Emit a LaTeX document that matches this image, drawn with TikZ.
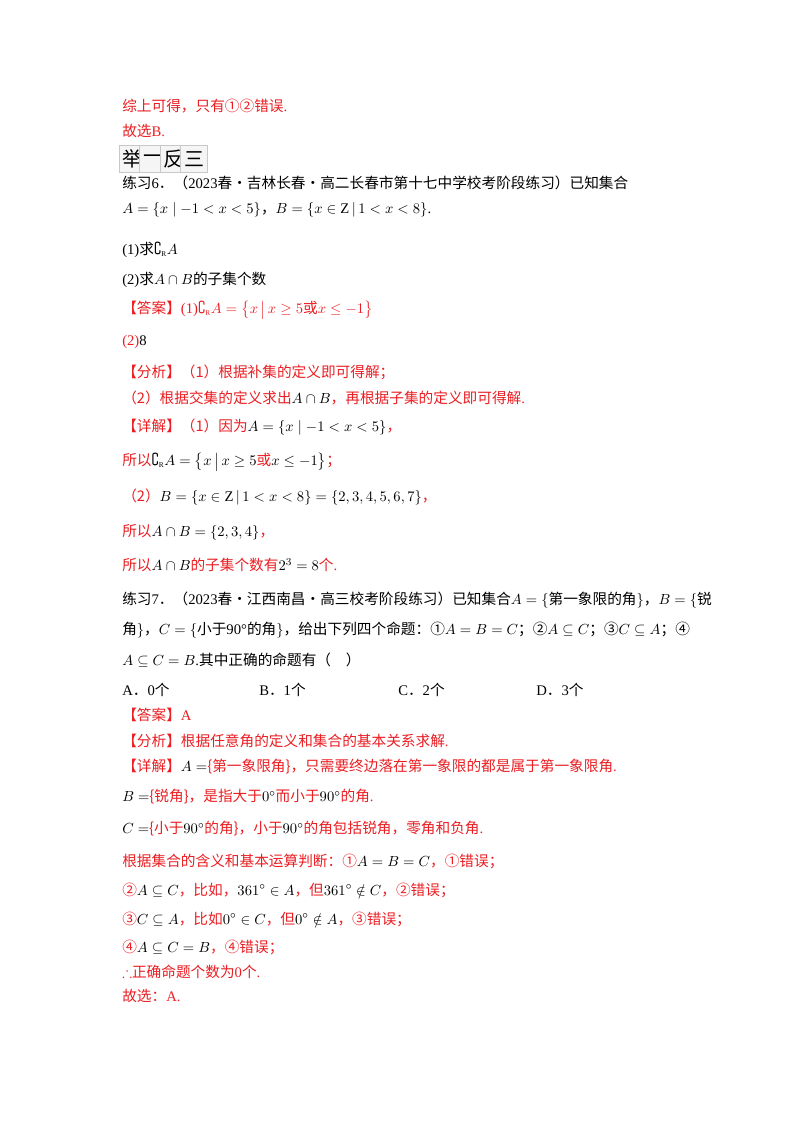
\documentclass[tikz,border=0pt]{standalone}
\usepackage{amsmath,amssymb}
\usepackage{fontspec}
\setmainfont{Liberation Serif}
\newfontfamily\cjk{Noto Sans CJK SC}
\newcommand\z[1]{{\cjk #1}}
\definecolor{ans}{RGB}{235,30,35}
\definecolor{boxg}{RGB}{200,200,200}
\begin{document}
\begin{tikzpicture}[x=0.75pt,y=-0.75pt,
  txt/.style={anchor=west,inner sep=0pt,font=\fontsize{11}{13}\selectfont},
  rtxt/.style={txt,text=ans},
  cell/.style={draw=boxg,fill=gray!8,minimum width=20.5,minimum height=20,inner sep=0pt,font=\fontsize{15}{16}\cjk}]
\useasboundingbox[fill=white] (0,0) rectangle (800,1132);
\node[rtxt] (l1) at (122,106) {\z{综上可得，只有①②错误}.};
\node[rtxt] (l2) at (122,131) {\z{故选}B.};
\node[cell] (c1) at (132.5,159) {举};
\node[cell] (c2) at (153,159) {一};
\node[cell] (c3) at (173.5,159) {反};
\node[cell] (c4) at (194,159) {三};
\node[txt] (l4) at (122,183) {\z{练习}6\z{．（}2023\z{春·吉林长春·高二长春市第十七中学校考阶段练习）已知集合}};
\node[txt] (l5) at (122,210) {$A=\left\{x\mid -1<x<5\right\}$\z{，}$B=\left\{x\in\mathrm{Z}\,\middle|\,1<x<8\right\}$.};
\node[txt] (l6) at (122,250) {(1)\z{求}$\complement_{\scriptscriptstyle\mathrm R}A$};
\node[txt] (l7) at (122,280) {(2)\z{求}$A\cap B$\z{的子集个数}};
\node[rtxt] (l8) at (122,310) {\z{【答案】}(1)$\complement_{\scriptscriptstyle\mathrm R}A=\left\{x\,\middle|\,x\ge 5\text{\z{或}}x\le -1\right\}$};
\node[rtxt] (l9) at (122,342) {(2)\textcolor{black}{8}};
\node[rtxt] (l10) at (122,372) {\z{【分析】（1）根据补集的定义即可得解；}};
\node[rtxt] (l11) at (122,398) {\z{（2）根据交集的定义求出}\textcolor{black}{$A\cap B$}\z{，再根据子集的定义即可得解}.};
\node[rtxt] (l12) at (122,427) {\z{【详解】（1）因为}\textcolor{black}{$A=\left\{x\mid -1<x<5\right\}$}\z{，}};
\node[rtxt] (l13) at (122,462) {\z{所以}\textcolor{black}{$\complement_{\scriptscriptstyle\mathrm R}A=\left\{x\,\middle|\,x\ge 5\text{\textcolor{ans}{\z{或}}}x\le -1\right\}$}\z{；}};
\node[rtxt] (l14) at (122,497) {\z{（2）}\textcolor{black}{$B=\left\{x\in\mathrm{Z}\,\middle|\,1<x<8\right\}=\left\{2,3,4,5,6,7\right\}$}\z{，}};
\node[rtxt] (l15) at (122,532) {\z{所以}\textcolor{black}{$A\cap B=\left\{2,3,4\right\}$}\z{，}};
\node[rtxt] (l16) at (122,565) {\z{所以}\textcolor{black}{$A\cap B$}\z{的子集个数有}\textcolor{black}{$2^3=8$}\z{个}.};
\node[txt] (l17) at (122,600) {\z{练习}7\z{．（}2023\z{春·江西南昌·高三校考阶段练习）已知集合}$A=\{$\z{第一象限的角}$\}$\z{，}$B=\{$\z{锐}};
\node[txt] (l18) at (122,630) {\z{角}$\}$\z{，}$C=\{$\z{小于}90°\z{的角}$\}$\z{，给出下列四个命题：①}$A=B=C$\z{；②}$A\subseteq C$\z{；③}$C\subseteq A$\z{；④}};
\node[txt] (l19) at (122,660) {$A\subseteq C=B$.\z{其中正确的命题有（\quad ）}};
\node[txt] (oA) at (122,690) {A\z{．}0\z{个}};
\node[txt] (oB) at (259,690) {B\z{．}1\z{个}};
\node[txt] (oC) at (398,690) {C\z{．}2\z{个}};
\node[txt] (oD) at (536,690) {D\z{．}3\z{个}};
\node[rtxt] (l21) at (122,715) {\z{【答案】}A};
\node[rtxt] (l22) at (122,741) {\z{【分析】根据任意角的定义和集合的基本关系求解}.};
\node[rtxt] (l23) at (122,767) {\z{【详解】}\textcolor{black}{$A=$}\z{\{第一象限角\}，只需要终边落在第一象限的都是属于第一象限角}.};
\node[rtxt] (l24) at (122,797) {\textcolor{black}{$B=$}\z{\{锐角\}，是指大于}\textcolor{black}{$0^\circ$}\z{而小于}\textcolor{black}{$90^\circ$}\z{的角}.};
\node[rtxt] (l25) at (122,829) {\textcolor{black}{$C=$}\z{\{小于}\textcolor{black}{$90^\circ$}\z{的角\}，小于}\textcolor{black}{$90^\circ$}\z{的角包括锐角，零角和负角}.};
\node[rtxt] (l26) at (122,861) {\z{根据集合的含义和基本运算判断：①}\textcolor{black}{$A=B=C$}\z{，①错误；}};
\node[rtxt] (l27) at (122,890) {\z{②}\textcolor{black}{$A\subseteq C$}\z{，比如，}\textcolor{black}{$361^\circ\in A$}\z{，但}\textcolor{black}{$361^\circ\notin C$}\z{，②错误；}};
\node[rtxt] (l28) at (122,919) {\z{③}\textcolor{black}{$C\subseteq A$}\z{，比如}\textcolor{black}{$0^\circ\in C$}\z{，但}\textcolor{black}{$0^\circ\notin A$}\z{，③错误；}};
\node[rtxt] (l29) at (122,947) {\z{④}\textcolor{black}{$A\subseteq C=B$}\z{，④错误；}};
\node[rtxt] (l30) at (122,972) {$\therefore$\z{正确命题个数为}0\z{个}.};
\node[rtxt] (l31) at (122,996) {\z{故选：}A.};
\end{tikzpicture}
\end{document}
